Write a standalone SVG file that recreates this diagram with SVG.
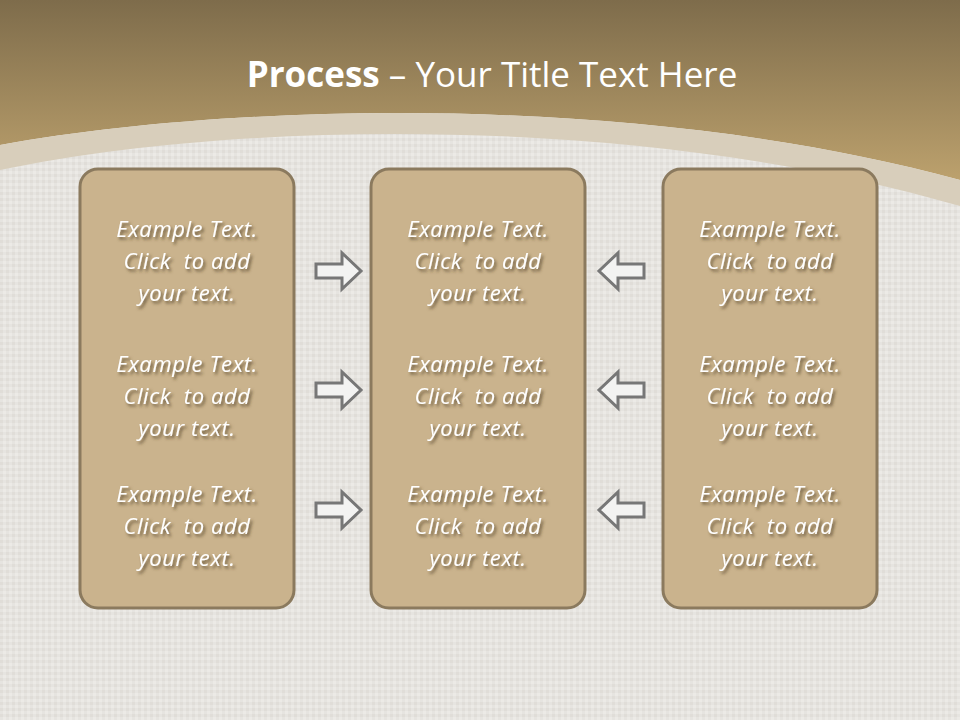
<svg xmlns="http://www.w3.org/2000/svg" width="960" height="720" viewBox="0 0 960 720">
<defs>
<linearGradient id="hdr" x1="0" y1="0" x2="0" y2="1" gradientUnits="objectBoundingBox">
<stop offset="0" stop-color="#7e6c4b"/>
<stop offset="1" stop-color="#bca16d"/>
</linearGradient>
<pattern id="weave" width="6" height="6" patternUnits="userSpaceOnUse">
<rect width="6" height="6" fill="#e6e4e0"/>
<rect x="0" y="0" width="3" height="3" fill="#e0ddd8"/>
<rect x="3" y="3" width="3" height="3" fill="#eceae6"/>
</pattern>
<filter id="tsh" x="-10%" y="-30%" width="130%" height="170%">
<feDropShadow dx="2" dy="2.5" stdDeviation="1.5" flood-color="#4a3b22" flood-opacity="0.75"/>
</filter>
<style>
.box{fill:#cab38d;stroke:#8b7a5e;stroke-width:3}
.t{font-family:"Open Sans","Liberation Sans",sans-serif;font-style:italic;font-size:22px;letter-spacing:0.6px;fill:#ffffff;text-anchor:middle;white-space:pre;filter:url(#tsh)}
.arr{fill:#f3f3f2;stroke:#777777;stroke-width:3;stroke-linejoin:miter}
.title{font-family:"Open Sans","Liberation Sans",sans-serif;font-size:35px;fill:#ffffff;text-anchor:middle}
</style>
</defs>
<rect width="960" height="720" fill="url(#weave)"/>
<path d="M0,0 H960 V180 C650,95 250,100 0,145 Z" fill="url(#hdr)"/>
<path d="M0,145 C250,100 650,95 960,180 V206 C650,116 250,118 0,170 Z" fill="#d8cebb"/>
<g id="title">
<text class="title" x="492" y="87"><tspan font-weight="bold">Process</tspan> – Your Title Text Here</text>
</g>
<g id="box-left">
<rect class="box" x="80" y="169" width="214" height="439" rx="18"/>
<text class="t" x="187" y="237">Example Text.</text>
<text class="t" x="187" y="269">Click  to add</text>
<text class="t" x="187" y="301">your text.</text>
<text class="t" x="187" y="372">Example Text.</text>
<text class="t" x="187" y="404">Click  to add</text>
<text class="t" x="187" y="436">your text.</text>
<text class="t" x="187" y="502">Example Text.</text>
<text class="t" x="187" y="534">Click  to add</text>
<text class="t" x="187" y="566">your text.</text>
</g>
<g id="box-middle">
<rect class="box" x="371" y="169" width="214" height="439" rx="18"/>
<text class="t" x="478" y="237">Example Text.</text>
<text class="t" x="478" y="269">Click  to add</text>
<text class="t" x="478" y="301">your text.</text>
<text class="t" x="478" y="372">Example Text.</text>
<text class="t" x="478" y="404">Click  to add</text>
<text class="t" x="478" y="436">your text.</text>
<text class="t" x="478" y="502">Example Text.</text>
<text class="t" x="478" y="534">Click  to add</text>
<text class="t" x="478" y="566">your text.</text>
</g>
<g id="box-right">
<rect class="box" x="663" y="169" width="214" height="439" rx="18"/>
<text class="t" x="770" y="237">Example Text.</text>
<text class="t" x="770" y="269">Click  to add</text>
<text class="t" x="770" y="301">your text.</text>
<text class="t" x="770" y="372">Example Text.</text>
<text class="t" x="770" y="404">Click  to add</text>
<text class="t" x="770" y="436">your text.</text>
<text class="t" x="770" y="502">Example Text.</text>
<text class="t" x="770" y="534">Click  to add</text>
<text class="t" x="770" y="566">your text.</text>
</g>
<g id="connectors">
<path class="arr" d="M316,264 H342 V253 L361,271 L342,289 V278 H316 Z"/>
<path class="arr" d="M316,383 H342 V372 L361,390 L342,408 V397 H316 Z"/>
<path class="arr" d="M316,503 H342 V492 L361,510 L342,528 V517 H316 Z"/>
<path class="arr" d="M644,264 H618 V253 L599,271 L618,289 V278 H644 Z"/>
<path class="arr" d="M644,383 H618 V372 L599,390 L618,408 V397 H644 Z"/>
<path class="arr" d="M644,503 H618 V492 L599,510 L618,528 V517 H644 Z"/>
</g>
</svg>
